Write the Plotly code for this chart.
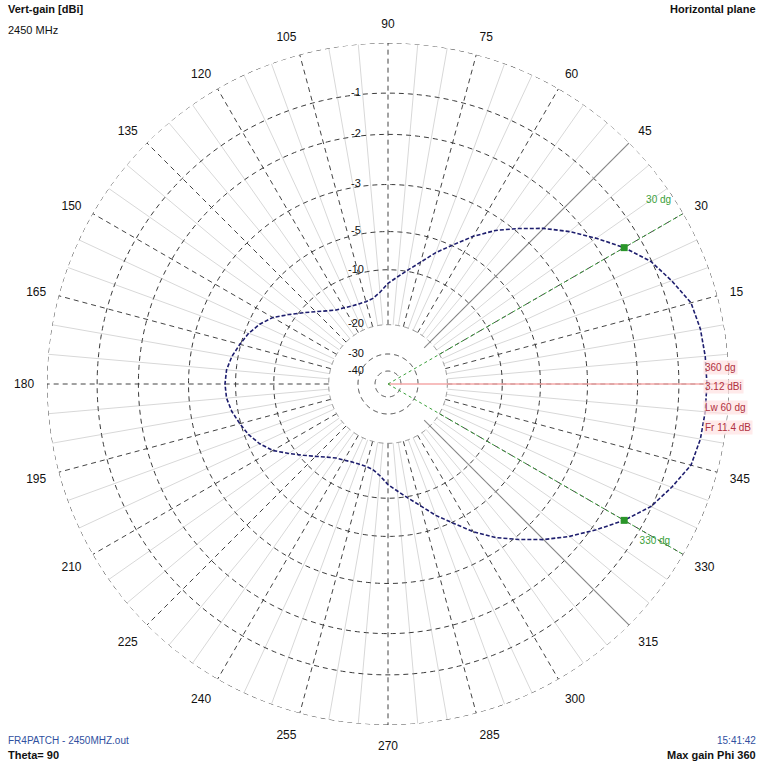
import numpy as np
import plotly.graph_objects as go

# ---------------- data ----------------
ring_db = [1, -1, -2, -3, -5, -10, -20, -30, -40]
ring_labels = ["1", "-1", "-2", "-3", "-5", "-10", "-20", "-30", "-40"]

angle_ticks = list(range(15, 360, 15))
angle_labels = [str(a) for a in angle_ticks]

phi_deg = list(range(0, 365, 5))
gain_db = [0.12, 0.10, 0.05, -0.09, -0.56, -1.02, -1.44, -1.89, -2.25, -2.59,
           -2.93, -3.51, -4.23, -4.96, -6.65, -8.44, -9.78, -11.24, -12.48, -14.04,
           -14.97, -15.28, -15.28, -15.16, -14.78, -14.35, -13.42, -12.17, -10.62, -9.11,
           -7.54, -6.43, -5.54, -4.96, -4.74, -4.59, -4.55, -4.59, -4.74, -4.96,
           -5.54, -6.43, -7.54, -9.11, -10.62, -12.17, -13.42, -14.35, -14.78, -15.16,
           -15.28, -15.28, -14.97, -14.04, -12.48, -11.24, -9.78, -8.44, -6.65, -4.96,
           -4.23, -3.51, -2.93, -2.59, -2.25, -1.89, -1.44, -1.02, -0.56, -0.09,
           0.05, 0.10, 0.12]

beam_phi = [30, 330]
max_phi = 0

# ---------------- radial scale (dB -> radius) ----------------
_scale_db = [-40, -30, -20, -10, -5, -3, -2, -1, 1]
_scale_r = [0.038, 0.088, 0.174, 0.335, 0.447, 0.585, 0.732, 0.853, 1.0]


def rad(db):
    return np.interp(db, _scale_db, _scale_r)


ring_r = [float(rad(d)) for d in ring_db]
inner_r = float(rad(-20))

fig = go.Figure()

# light spokes every 5 deg
th, rr = [], []
for a in range(0, 360, 5):
    if a % 15:
        th += [a, a, None]
        rr += [inner_r, 1.0, None]
fig.add_trace(go.Scatterpolar(theta=th, r=rr, mode="lines",
                              line=dict(color="#d8d8d8", width=1),
                              hoverinfo="skip", showlegend=False))
# dark dashed spokes every 15 deg
th, rr = [], []
for a in range(0, 360, 15):
    th += [a, a, None]
    rr += [inner_r, 1.0, None]
fig.add_trace(go.Scatterpolar(theta=th, r=rr, mode="lines",
                              line=dict(color="#444444", width=1, dash="5px,4px"),
                              hoverinfo="skip", showlegend=False))
# rings
circ = np.arange(0, 361, 1)
for i, r in enumerate(ring_r):
    col = "#909090" if ring_db[i] == -20 else "#3a3a3a"
    fig.add_trace(go.Scatterpolar(theta=circ, r=[r] * len(circ), mode="lines",
                                  line=dict(color=col, width=1, dash="5px,4px"),
                                  hoverinfo="skip", showlegend=False))

# gray solid diagonals
for a in (45, 315):
    fig.add_trace(go.Scatterpolar(theta=[a, a], r=[0.15, 1.0], mode="lines",
                                  line=dict(color="#8c8c8c", width=1.2),
                                  hoverinfo="skip", showlegend=False))

# red max-gain line
fig.add_trace(go.Scatterpolar(theta=[max_phi, max_phi], r=[0, 1.0], mode="lines",
                              line=dict(color="#f4a8a8", width=1.5),
                              hoverinfo="skip", showlegend=False))

# green beamwidth lines
for a in beam_phi:
    fig.add_trace(go.Scatterpolar(theta=[a, a], r=[0, 1.0], mode="lines",
                                  line=dict(color="#3aa03a", width=1, dash="dot"),
                                  hoverinfo="skip", showlegend=False))

# pattern
fig.add_trace(go.Scatterpolar(theta=phi_deg, r=rad(np.array(gain_db)), mode="lines",
                              line=dict(color="#1e1e6e", width=1.6, dash="4px,2px"),
                              hoverinfo="skip", showlegend=False))

# beam markers
beam_r = rad(np.interp(beam_phi, phi_deg, gain_db))
fig.add_trace(go.Scatterpolar(theta=beam_phi, r=beam_r, mode="markers",
                              marker=dict(color="#2a962a", size=7, symbol="square"),
                              hoverinfo="skip", showlegend=False))

# green angle texts
fig.add_trace(go.Scatterpolar(theta=[33, 328], r=[0.99, 0.87], mode="text",
                              text=[f"{beam_phi[0]} dg", f"{beam_phi[1]} dg"],
                              textposition=["middle left", "middle right"],
                              textfont=dict(color="#3aa03a", size=10, family="Liberation Sans"),
                              hoverinfo="skip", showlegend=False))

# ring labels, placed just left of the 90 deg axis
R_PX = 341.0
off = 32.0 / R_PX
lab_th = [90 + np.degrees(np.arctan2(off, r)) for r in ring_r]
lab_r = [np.hypot(off, r) for r in ring_r]
fig.add_trace(go.Scatterpolar(theta=lab_th, r=lab_r, mode="text", text=ring_labels,
                              textposition="middle center",
                              textfont=dict(color="#111111", size=11, family="Liberation Sans"),
                              hoverinfo="skip", showlegend=False))

W, H = 765, 767
cx, cy = 388, 384
fig.update_layout(
    width=W, height=H,
    margin=dict(l=0, r=0, t=0, b=0),
    paper_bgcolor="white",
    plot_bgcolor="white",
    showlegend=False,
    polar=dict(
        domain=dict(x=[(cx - R_PX) / W, (cx + R_PX) / W],
                    y=[(H - cy - R_PX) / H, (H - cy + R_PX) / H]),
        bgcolor="white",
        radialaxis=dict(visible=False, range=[0, 1]),
        angularaxis=dict(rotation=0, direction="counterclockwise",
                         tickmode="array", tickvals=angle_ticks, ticktext=angle_labels,
                         showgrid=False, showline=False,
                         ticks="outside", ticklen=10, tickcolor="rgba(255,255,255,0)",
                         tickfont=dict(size=12, color="#111111", family="Liberation Sans")),
    ),
    font=dict(family="Liberation Sans"),
)


def ann(x, y, text, anchor="left", bold=False, color="#111111", size=11, bg=None):
    fig.add_annotation(x=x / W, y=1 - y / H, xref="paper", yref="paper",
                       text=f"<b>{text}</b>" if bold else text, showarrow=False,
                       xanchor=anchor, yanchor="middle",
                       font=dict(size=size, color=color, family="Liberation Sans"),
                       bgcolor=bg)


ann(6, 9, "Vert-gain [dBi]", bold=True)
ann(6, 30, "2450 MHz", size=11)
ann(758, 9, "Horizontal plane", anchor="right", bold=True)
ann(6, 740, "FR4PATCH - 2450MHZ.out", color="#3050a0", size=10)
ann(6, 755, "Theta= 90", bold=True)
ann(758, 740, "15:41:42", anchor="right", color="#3050a0", size=10)
ann(758, 755, f"Max gain Phi {360 if max_phi == 0 else max_phi}", anchor="right", bold=True)

pink = "rgba(255,225,225,0.7)"
ann(703, 368, "360 dg", color="#b03040", size=10, bg=pink)
ann(703, 387, "3.12 dBi", color="#b03040", size=10, bg=pink)
ann(703, 407, "Lw 60 dg", color="#b03040", size=10, bg=pink)
ann(703, 427, "Fr 11.4 dB", color="#b03040", size=10, bg=pink)

fig.write_html("out.html", config={"displayModeBar": False},
               post_script="document.body.style.margin='0';document.body.style.overflow='hidden';")
